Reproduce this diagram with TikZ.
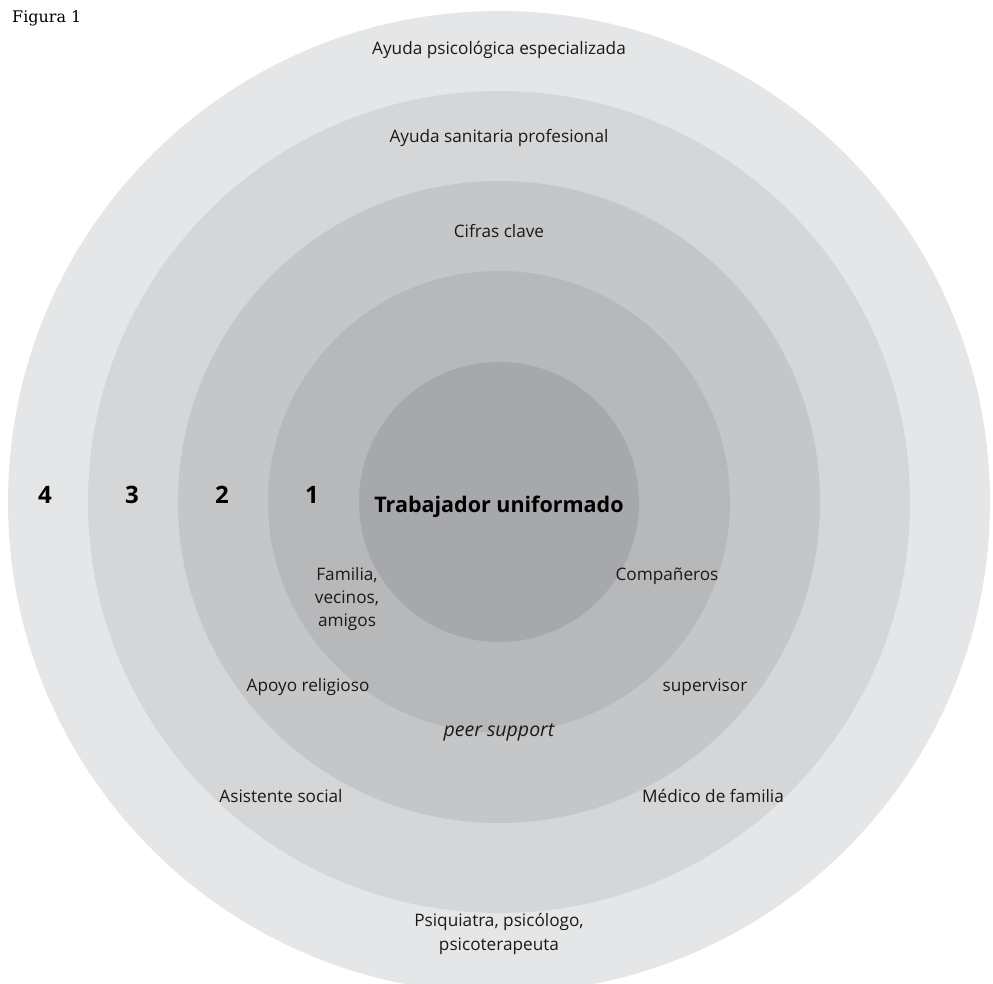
\documentclass[tikz,border=0pt]{standalone}
\usepackage{fontspec}
\setmainfont{Open Sans}
\newfontfamily\slabfont{DejaVu Serif}
\definecolor{ringA}{HTML}{E5E6E8}
\definecolor{ringB}{HTML}{D5D6D8}
\definecolor{ringC}{HTML}{C5C6C8}
\definecolor{ringD}{HTML}{B7B8BA}
\definecolor{ringE}{HTML}{A7A8AB}
\definecolor{txt}{HTML}{1A1A1A}
\tikzset{
  lbl/.style={text=txt, font=\fontsize{17.2}{20}\selectfont, inner sep=0pt, align=center},
  num/.style={text=black, font=\fontsize{24}{28}\selectfont\bfseries, inner sep=0pt},
}
\begin{document}
\begin{tikzpicture}[x=1pt,y=-1pt]
\useasboundingbox (0,0) rectangle (993,984);
\begin{scope}
\clip (0,0) rectangle (993,984);
\coordinate (c) at (499,502);
\fill[ringA] (c) circle[radius=491];
\fill[ringB] (c) circle[radius=411];
\fill[ringC] (c) circle[radius=321];
\fill[ringD] (c) circle[radius=231];
\fill[ringE] (c) circle[radius=140];
\end{scope}
\node[anchor=west, inner sep=0pt, font=\slabfont\fontsize{16}{18}\selectfont] (fig) at (12,18) {Figura 1};
\node[lbl] (t4) at (499,50) {Ayuda psicológica especializada};
\node[lbl] (t3) at (499,138) {Ayuda sanitaria profesional};
\node[lbl] (t2) at (499,231) {Cifras clave};
\node[num] (n4) at (45,495) {4};
\node[num] (n3) at (132,495) {3};
\node[num] (n2) at (222,495) {2};
\node[num] (n1) at (312,495) {1};
\node[inner sep=0pt, font=\fontsize{21.5}{26}\selectfont\bfseries] (tu) at (499,507) {Trabajador uniformado};
\node[lbl, font=\fontsize{17.2}{23.2}\selectfont] (fam) at (347,599) {Familia,\\vecinos,\\amigos};
\node[lbl] (comp) at (667,576) {Compañeros};
\node[lbl] (rel) at (308,687) {Apoyo religioso};
\node[lbl] (sup) at (705,687) {supervisor};
\node[lbl, font=\fontsize{19.5}{22}\selectfont\itshape] (peer) at (499,732) {peer support};
\node[lbl] (soc) at (281,796) {Asistente social};
\node[lbl] (med) at (713,796) {Médico de familia};
\node[lbl, font=\fontsize{17.2}{24}\selectfont] (psi) at (499,934) {Psiquiatra, psicólogo,\\psicoterapeuta};
\end{tikzpicture}
\end{document}
